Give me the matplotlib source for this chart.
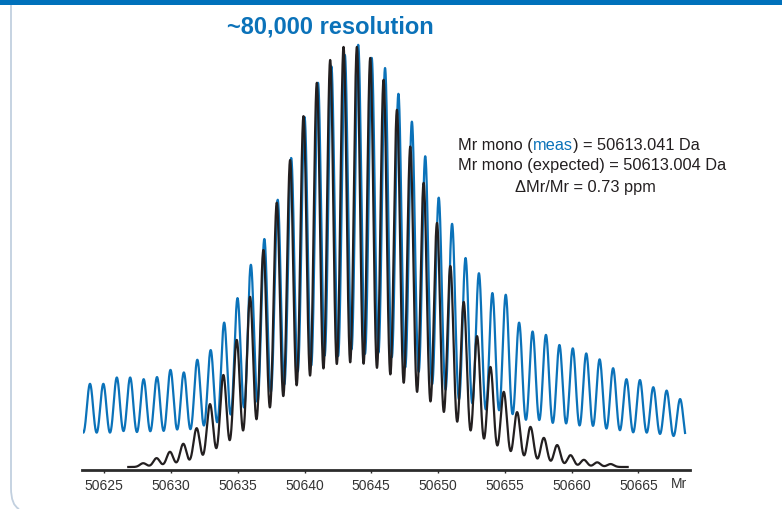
import numpy as np
import matplotlib
matplotlib.use('Agg')
import matplotlib.pyplot as plt
from matplotlib.path import Path
from matplotlib.patches import PathPatch, Rectangle

# Theoretical isotope distribution (black): peak centres (Da) and apex heights (%)
theo_mr = [50627.92, 50628.92, 50629.92, 50630.92, 50631.92, 50632.92,
           50633.92, 50634.92, 50635.92, 50636.92, 50637.92, 50638.92,
           50639.92, 50640.92, 50641.92, 50642.92, 50643.92, 50644.92,
           50645.92, 50646.92, 50647.92, 50648.92, 50649.92, 50650.92,
           50651.92, 50652.92, 50653.92, 50654.92, 50655.92, 50656.92,
           50657.92, 50658.92, 50659.92, 50660.92, 50661.92, 50662.92]
theo_int = [0.9, 2.1, 3.6, 5.5, 9.2, 14.9, 21.8, 30.1, 40.3, 51.4, 62.6, 72.7,
            83.1, 91.0, 96.4, 99.5, 99.5, 96.9, 91.7, 84.6, 75.9, 67.3, 57.8,
            47.6, 39.1, 31.0, 23.7, 17.8, 13.0, 9.5, 6.9, 5.2, 2.8, 1.7, 1.1,
            0.7]
theo_range = (50626.8, 50664.2)

# Measured spectrum (blue): peak centres (Da) and apex heights (%)
meas_mr = [50622.93, 50623.93, 50624.93, 50625.94, 50626.94, 50627.95,
           50628.95, 50629.96, 50630.96, 50631.97, 50632.97, 50633.98,
           50634.98, 50635.98, 50636.99, 50637.99, 50639.00, 50640.00,
           50641.01, 50642.01, 50643.02, 50644.02, 50645.03, 50646.03,
           50647.03, 50648.04, 50649.04, 50650.05, 50651.05, 50652.06,
           50653.06, 50654.07, 50655.07, 50656.07, 50657.08, 50658.08,
           50659.09, 50660.09, 50661.10, 50662.10, 50663.11, 50664.11,
           50665.12, 50666.12, 50667.12, 50668.13]
meas_int = [19.7, 19.7, 19.7, 21.2, 21.2, 20.8, 21.3, 23.0, 22.4, 25.4, 27.7,
            34.2, 40.0, 47.9, 54.0, 63.3, 73.2, 82.9, 91.0, 94.9, 97.6, 100.0,
            96.9, 94.5, 88.4, 81.8, 73.6, 63.8, 57.6, 49.5, 45.9, 41.2, 40.8,
            34.2, 32.1, 31.3, 28.9, 28.1, 26.9, 25.5, 23.4, 20.8, 20.6, 18.9,
            18.1, 16.1]
meas_floor = 4.3
meas_range = (50623.37, 50668.50)

peak_sigma = 0.245

xticks = [50625, 50630, 50635, 50640, 50645, 50650, 50655, 50660, 50665]

blue = '#0b72b9'
dark = '#231f20'
W, H = 782, 509


def profile(mr, centres, heights, sigma, floor=0.0):
    # Sum of gaussian peaks on top of a flat floor.
    y = np.full_like(mr, floor)
    for c, h in zip(centres, heights):
        y += (h - floor) * np.exp(-0.5 * ((mr - c) / sigma) ** 2)
    return y


plt.rcParams['font.family'] = ['Liberation Sans', 'DejaVu Sans']

fig = plt.figure(figsize=(W / 100, H / 100), dpi=100)

# axes box in pixels
axL, axR, axB, axT = 82.5, 690.0, 469.7, 40.0
ax = fig.add_axes([axL / W, 1 - axB / H, (axR - axL) / W, (axB - axT) / H])
pxPerUnit = 4.22
zeroPx = 467.0
ax.set_xlim(50623.37, 50668.87)
ax.set_ylim(-(axB - zeroPx) / pxPerUnit, (zeroPx - axT) / pxPerUnit)

xm = np.linspace(meas_range[0], meas_range[1], 6000)
ax.plot(xm, profile(xm, meas_mr, meas_int, peak_sigma, meas_floor),
        color=blue, lw=1.6, solid_joinstyle='round')
xt = np.linspace(theo_range[0], theo_range[1], 6000)
ax.plot(xt, profile(xt, theo_mr, theo_int, peak_sigma),
        color=dark, lw=1.6, solid_joinstyle='round')

for s in ['top', 'right', 'left']:
    ax.spines[s].set_visible(False)
ax.spines['bottom'].set_linewidth(2.0)
ax.spines['bottom'].set_color('#2b2b2b')
ax.set_yticks([])
ax.set_xticks(xticks)
ax.set_xticklabels([str(t) for t in xticks])
ax.tick_params(axis='x', length=2.5, width=1.0, color='#2b2b2b', pad=4.5,
               labelsize=10, labelcolor='#333333')

fig.text(679 / W, 1 - 488.3 / H, 'Mr', ha='center', va='baseline',
         fontsize=10, color='#333333')

# title
fig.text(330 / W, 1 - 33.3 / H, '~80,000 resolution', ha='center',
         va='baseline', fontsize=17, fontweight='bold', color=blue)

# annotation block
fs = 11.8
t1 = fig.text(458 / W, 1 - 150 / H, 'Mr mono (', ha='left', va='baseline',
              fontsize=fs, color=dark)
t2 = ax.annotate('meas', xy=(1, 0), xycoords=t1, ha='left', va='bottom',
                 fontsize=fs, color=blue)
ax.annotate(') = 50613.041 Da', xy=(1, 0), xycoords=t2, ha='left',
            va='bottom', fontsize=fs, color=dark)
fig.text(458 / W, 1 - 170 / H, 'Mr mono (expected) = 50613.004 Da',
         ha='left', va='baseline', fontsize=fs, color=dark)
fig.text(585 / W, 1 - 191.7 / H, '\u0394Mr/Mr = 0.73 ppm', ha='center',
         va='baseline', fontsize=fs, color=dark)

# page decoration: blue band on top and rounded frame line on the left
fig.patches.append(Rectangle((0, 1 - 5 / H), 1, 5 / H, transform=fig.transFigure,
                             color='#0071bb', lw=0))
verts = [(11 / W, 1 - 5 / H), (11 / W, 1 - 488 / H), (11 / W, 1 - 505 / H),
         (19 / W, 1 - 509 / H)]
codes = [Path.MOVETO, Path.LINETO, Path.CURVE3, Path.CURVE3]
fig.patches.append(PathPatch(Path(verts, codes), transform=fig.transFigure,
                             fill=False, edgecolor='#c2d0df', lw=1.3))

fig.savefig('out.png', dpi=100)
